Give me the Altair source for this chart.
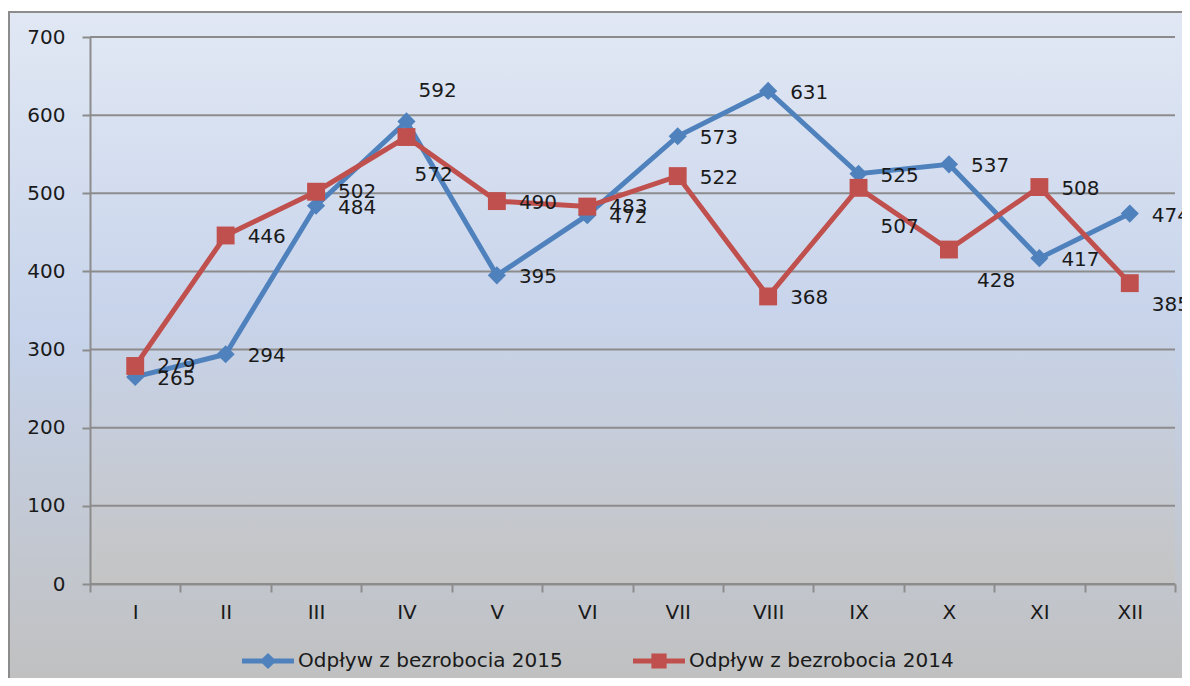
import altair as alt
import pandas as pd

months = ["I", "II", "III", "IV", "V", "VI", "VII", "VIII", "IX", "X", "XI", "XII"]
v2015 = [265, 294, 484, 592, 395, 472, 573, 631, 525, 537, 417, 474]
v2014 = [279, 446, 502, 572, 490, 483, 522, 368, 507, 428, 508, 385]
series = ["Odpływ z bezrobocia 2015", "Odpływ z bezrobocia 2014"]
y_ticks = [0, 100, 200, 300, 400, 500, 600, 700]

# label offsets in pixels (dx, dy) per point
dx2015 = [22, 22, 22, 12, 22, 22, 22, 22, 22, 22, 22, 22]
dy2015 = [2, 2, 2, -30, 2, 2, 2, 2, 2, 2, 2, 2]
dx2014 = [22, 22, 22, 8, 22, 22, 22, 22, 22, 28, 22, 22]
dy2014 = [0, 2, 0, 38, 2, 0, 2, 2, 39, 31, 2, 22]

BLUE = "#4f81bd"
RED = "#c0504d"
colors = [BLUE, RED]
FONT = "DejaVu Sans"
W, H = 1085, 547

rows = []
for i, m in enumerate(months):
    rows.append({"m": m, "v": v2015[i], "s": series[0], "dx": dx2015[i], "dy": dy2015[i]})
    rows.append({"m": m, "v": v2014[i], "s": series[1], "dx": dx2014[i], "dy": dy2014[i]})
df = pd.DataFrame(rows)

x_enc = alt.X(
    "m:N", sort=months,
    scale=alt.Scale(type="band", paddingInner=0, paddingOuter=0),
    axis=alt.Axis(title=None, labelAngle=0, tickBand="extent", tickSize=8, grid=False,
                  domainColor="#8c8c8c", domainWidth=2, tickColor="#8c8c8c", tickWidth=2,
                  labelFont=FONT, labelFontSize=20, labelColor="#1a1a1a",
                  labelPadding=10, zindex=1),
)
y_enc = alt.Y(
    "v:Q", scale=alt.Scale(domain=[0, 700], nice=False, zero=True),
    axis=alt.Axis(title=None, values=y_ticks, grid=False, tickSize=8,
                  domainColor="#8c8c8c", domainWidth=2, tickColor="#8c8c8c", tickWidth=2,
                  labelFont=FONT, labelFontSize=20, labelColor="#1a1a1a",
                  labelPadding=17, zindex=1),
)

outer_grad = alt.LinearGradient(
    gradient="linear", x1=0, x2=0, y1=0, y2=1,
    stops=[alt.GradientStop(color="#e1e8f4", offset=0),
           alt.GradientStop(color="#c6d3ea", offset=0.48),
           alt.GradientStop(color="#c0c0c0", offset=1)],
)
plot_grad = alt.LinearGradient(
    gradient="linear", x1=0, x2=0, y1=0, y2=1,
    stops=[alt.GradientStop(color="#e0e7f4", offset=0),
           alt.GradientStop(color="#c8d4eb", offset=0.5),
           alt.GradientStop(color="#c4c4c4", offset=1)],
)

one = alt.Data(values=[{}])
outer = alt.Chart(one).mark_rect(fill=outer_grad, stroke="#8c8c8c", strokeWidth=2).encode(
    x=alt.value(-81), x2=alt.value(W + 200), y=alt.value(-25), y2=alt.value(H + 102)
)
inner = alt.Chart(one).mark_rect(fill=plot_grad).encode(
    x=alt.value(0), x2=alt.value(W), y=alt.value(0), y2=alt.value(H)
)

grid = alt.Chart(pd.DataFrame({"v": y_ticks})).mark_rule(color="#8c8c8c", strokeWidth=2).encode(
    y=alt.Y("v:Q"), x=alt.value(0), x2=alt.value(W)
)

layers = [outer, inner, grid]

shapes = ["diamond", "square"]
sizes = [330, 320]
for s, c, shp, sz in zip(series, colors, shapes, sizes):
    base = alt.Chart(df).transform_filter(alt.datum.s == s)
    layers.append(base.mark_line(color=c, strokeWidth=5).encode(x=x_enc, y=y_enc))
    layers.append(base.mark_point(shape=shp, filled=True, color=c, opacity=1, size=sz).encode(x=x_enc, y=y_enc))

# data labels
combos = sorted(set(zip(df["dx"], df["dy"])))
for dx, dy in combos:
    layers.append(
        alt.Chart(df)
        .transform_filter((alt.datum.dx == int(dx)) & (alt.datum.dy == int(dy)))
        .mark_text(align="left", baseline="middle", dx=int(dx), dy=int(dy), font=FONT,
                   fontSize=20, color="#1a1a1a")
        .encode(x=x_enc, y=y_enc, text="v:Q")
    )

# legend layer (no visible marks)
path2015 = "M-3.25,-0.3L3.25,-0.3L3.25,0.3L-3.25,0.3ZM0,-1L1.05,0L0,1L-1.05,0Z"
path2014 = "M-3.25,-0.3L3.25,-0.3L3.25,0.3L-3.25,0.3ZM-0.95,-0.95L0.95,-0.95L0.95,0.95L-0.95,0.95Z"
leg = alt.Legend(title=None, orient="none", legendX=168, legendY=614, direction="horizontal",
                 padding=0, labelOffset=20, columnPadding=70, symbolSize=256, labelLimit=0,
                 symbolStrokeWidth=0, labelFont=FONT, labelFontSize=20, labelColor="#1a1a1a")
legend_layer = alt.Chart(df).transform_filter("false").mark_point(filled=True, opacity=1, size=256).encode(
    x=x_enc, y=y_enc,
    color=alt.Color("s:N", scale=alt.Scale(domain=series, range=colors), legend=leg),
    shape=alt.Shape("s:N", scale=alt.Scale(domain=series, range=[path2015, path2014]), legend=leg),
)
layers.append(legend_layer)

chart = alt.layer(*layers).properties(
    width=W, height=H,
    padding={"left": 82, "top": 29, "right": 7, "bottom": 94},
    autosize=alt.AutoSizeParams(type="none"),
    background="white",
).configure_view(strokeWidth=0)

chart.save("out.html", embed_options={"renderer": "svg", "actions": False})
